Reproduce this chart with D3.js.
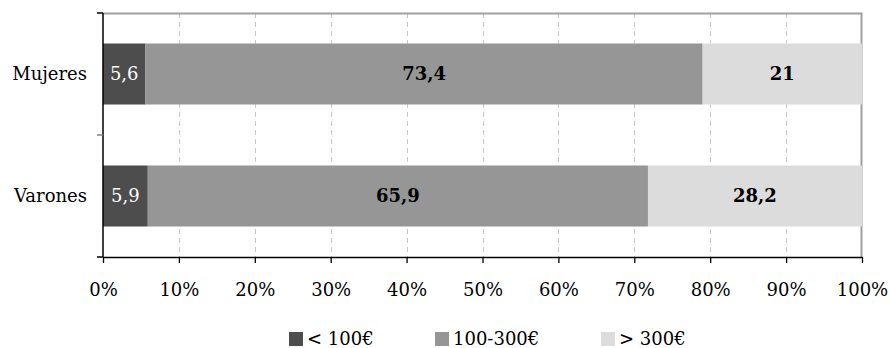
<!DOCTYPE html>
<html>
<head>
<meta charset="utf-8">
<script src="https://cdn.jsdelivr.net/npm/d3@7"></script>
<style>
  html, body { margin: 0; padding: 0; background: #fff; }
  svg { display: block; font-family: "DejaVu Serif", "Liberation Serif", serif; }
</style>
</head>
<body>
<svg id="chart" width="889" height="348"></svg>
<script>
// Gasto por sexo, en porcentaje de cada grupo
const groups = ["Mujeres", "Varones"];
const seriesNames = ["< 100€", "100-300€", "> 300€"];
const under100 = [5.6, 5.9];
const from100to300 = [73.4, 65.9];
const over300 = [21, 28.2];
const xTicks = [0, 10, 20, 30, 40, 50, 60, 70, 80, 90, 100];
const colors = ["#4d4d4d", "#969696", "#dcdcdc"];
const labelColors = ["#ffffff", "#000000", "#000000"];
const labelWeights = ["normal", "bold", "bold"];

const FONT = "DejaVu Serif, Liberation Serif, serif";
const FS = 18;

const rows = groups.map((g, i) => ({
  group: g,
  [seriesNames[0]]: under100[i],
  [seriesNames[1]]: from100to300[i],
  [seriesNames[2]]: over300[i]
}));

const svg = d3.select("#chart");
const margin = { left: 103, right: 27, top: 13, bottom: 91 };
const W = 889, H = 348;
const plotW = W - margin.left - margin.right;
const plotH = H - margin.top - margin.bottom;

const x = d3.scaleLinear().domain([0, 100]).range([margin.left, margin.left + plotW]);
const y = d3.scaleBand().domain(groups).range([margin.top, margin.top + plotH]).paddingInner(0.5).paddingOuter(0.25);
const yOuter = d3.scaleBand().domain(groups).range([margin.top, margin.top + plotH]);

const fmt = d3.formatLocale({ decimal: ",", thousands: ".", grouping: [3], currency: ["", "€"] }).format("~");

// dashed vertical gridlines
svg.append("g").selectAll("line")
  .data(xTicks.filter(t => t > 0 && t < 100))
  .join("line")
  .attr("x1", d => Math.round(x(d)) + 0.5).attr("x2", d => Math.round(x(d)) + 0.5)
  .attr("y1", margin.top).attr("y2", margin.top + plotH)
  .attr("stroke", "#c8c8c8").attr("stroke-width", 1)
  .attr("stroke-dasharray", "5,4");

// plot frame (top and right)
svg.append("path")
  .attr("d", `M${x(0)},${margin.top + 0.5}H${x(100) - 0.5}V${margin.top + plotH}`)
  .attr("fill", "none").attr("stroke", "#a0a0a0").attr("stroke-width", 2);

// stacked bars
const stacked = d3.stack().keys(seriesNames)(rows);
const layers = svg.append("g").selectAll("g")
  .data(stacked)
  .join("g")
  .attr("fill", (d, i) => colors[i]);

layers.selectAll("rect")
  .data(d => d)
  .join("rect")
  .attr("x", d => x(d[0]))
  .attr("width", d => x(d[1]) - x(d[0]))
  .attr("y", d => y(d.data.group))
  .attr("height", y.bandwidth());

// value labels, centred in each segment
svg.append("g").selectAll("g")
  .data(stacked)
  .join("g")
  .each(function (layer, li) {
    d3.select(this).selectAll("text")
      .data(layer)
      .join("text")
      .attr("x", d => (x(d[0]) + x(d[1])) / 2)
      .attr("y", d => y(d.data.group) + y.bandwidth() / 2)
      .attr("dy", "0.36em")
      .attr("text-anchor", "middle")
      .attr("font-size", FS)
      .attr("font-weight", labelWeights[li])
      .attr("fill", labelColors[li])
      .text(d => fmt(+(d[1] - d[0]).toFixed(1)));
  });

// x axis
const xAxis = svg.append("g")
  .attr("transform", `translate(0,${margin.top + plotH})`)
  .call(d3.axisBottom(x).tickValues(xTicks).tickFormat(d => d + "%").tickSize(6).tickSizeOuter(0));
xAxis.select(".domain").attr("stroke", "#000").attr("stroke-width", 1.5);
xAxis.selectAll(".tick line").attr("stroke", "#000").attr("stroke-width", 1.3);
xAxis.selectAll(".tick text")
  .attr("font-family", FONT)
  .attr("font-size", FS).attr("fill", "#000")
  .attr("y", 9).attr("dy", 30);

// y axis: category labels centred on bars, ticks at band boundaries
const yAxis = svg.append("g").attr("transform", `translate(${margin.left},0)`);
yAxis.append("line")
  .attr("x1", 0).attr("x2", 0)
  .attr("y1", margin.top).attr("y2", margin.top + plotH)
  .attr("stroke", "#000").attr("stroke-width", 1.5);
const boundaries = [margin.top].concat(groups.map(g => yOuter(g) + yOuter.bandwidth()));
yAxis.selectAll("line.tk")
  .data(boundaries)
  .join("line").attr("class", "tk")
  .attr("x1", -6).attr("x2", 0)
  .attr("y1", d => d).attr("y2", d => d)
  .attr("stroke", (d, i) => i === 1 ? "#808080" : "#000").attr("stroke-width", 1.5);
yAxis.selectAll("text")
  .data(groups)
  .join("text")
  .attr("x", -16)
  .attr("y", d => y(d) + y.bandwidth() / 2)
  .attr("dy", "0.36em")
  .attr("text-anchor", "end")
  .attr("font-size", FS)
  .attr("fill", "#000")
  .text(d => d);

// legend
const legendX = [289, 435, 601];
const legend = svg.append("g").selectAll("g")
  .data(seriesNames)
  .join("g")
  .attr("transform", (d, i) => `translate(${legendX[i]},332)`);
legend.append("rect")
  .attr("width", 14).attr("height", 14)
  .attr("fill", (d, i) => colors[i]);
legend.append("text")
  .attr("x", 18).attr("y", 13)
  .attr("font-size", FS).attr("fill", "#000")
  .text(d => d);
</script>
</body>
</html>
